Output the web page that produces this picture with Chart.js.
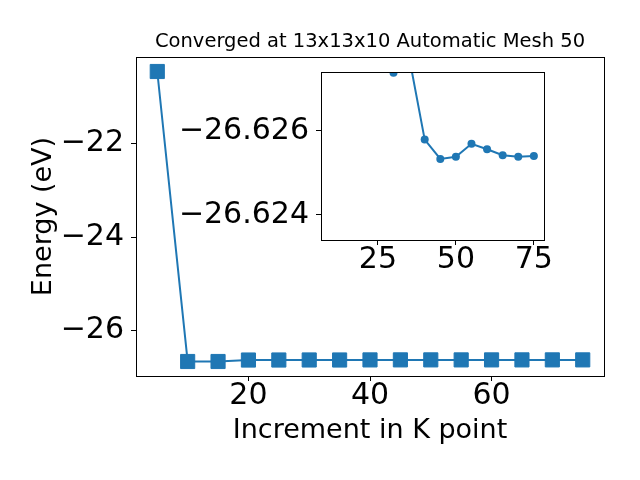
<!DOCTYPE html>
<html>
<head>
<meta charset="utf-8">
<script src="https://cdn.jsdelivr.net/npm/chart.js@4.4.0/dist/chart.umd.min.js"></script>
<style>
  html, body { margin: 0; padding: 0; background: #fff; }
  #wrap { position: relative; width: 640px; height: 480px; }
  #mainChart { position: absolute; left: 0; top: 0; }
  #insetChart { position: absolute; left: 160px; top: 60px; }
</style>
</head>
<body>
<div id="wrap">
  <canvas id="mainChart" width="640" height="480"></canvas>
  <canvas id="insetChart" width="420" height="240"></canvas>
</div>
<script>
// values
const kPoints = [5, 10, 15, 20, 25, 30, 35, 40, 45, 50, 55, 60, 65, 70, 75];
const energies = [-20.46, -26.66, -26.66, -26.6285, -26.6281, -26.62738, -26.62776, -26.62579,
  -26.62533, -26.62538, -26.62569, -26.62556, -26.62542, -26.62538, -26.6254];
const mainXTicks = [20, 40, 60];
const mainYTicks = [-26, -24, -22];
const insetXTicks = [25, 50, 75];
const insetYTicks = [-26.626, -26.624];
const titleText = "Converged at 13x13x10 Automatic Mesh 50";

const BLUE = "#1f77b4";
const FONT = "DejaVu Sans";
const minus = s => String(s).replace("-", "\u2212");

const frame = {
  id: "frame",
  beforeDraw(chart) {
    const a = chart.chartArea;
    const ctx = chart.ctx;
    ctx.save();
    ctx.fillStyle = "#fff";
    ctx.fillRect(a.left, a.top, a.right - a.left, a.bottom - a.top);
    ctx.restore();
  },
  afterDraw(chart) {
    const a = chart.chartArea;
    const ctx = chart.ctx;
    ctx.save();
    ctx.strokeStyle = "#000";
    ctx.lineWidth = 1;
    ctx.strokeRect(Math.round(a.left) + 0.5, Math.round(a.top) + 0.5,
      Math.round(a.right - a.left), Math.round(a.bottom - a.top));
    ctx.restore();
  }
};

function fixedTicks(values) {
  return scale => { scale.ticks = values.map(v => ({ value: v })); };
}

const tickFont = { family: FONT, size: 30, lineHeight: 1 };

function axis(opts) {
  return Object.assign({
    type: "linear",
    border: { display: false },
    grid: { drawOnChartArea: false, drawTicks: true, tickLength: 5, color: "#000", lineWidth: 1 },
    ticks: { color: "#000", font: tickFont, padding: 0 }
  }, opts);
}

function xFit(h) {
  return s => { s.height = h; s.paddingLeft = 0; s.paddingRight = 0; };
}
function yFit(w) {
  return s => { s.width = w; s.paddingTop = 0; s.paddingBottom = 0; };
}

new Chart(document.getElementById("mainChart"), {
  type: "line",
  data: {
    datasets: [{
      data: kPoints.map((k, i) => ({ x: k, y: energies[i] })),
      borderColor: BLUE,
      backgroundColor: BLUE,
      borderWidth: 2,
      pointStyle: "rect",
      pointRadius: 10,
      pointBorderWidth: 1,
      tension: 0
    }]
  },
  options: {
    responsive: false,
    animation: false,
    layout: { padding: { top: 0, right: 36, bottom: 0, left: 0 } },
    plugins: {
      legend: { display: false },
      tooltip: { enabled: false },
      title: {
        display: true,
        fullSize: false,
        text: titleText,
        color: "#000",
        font: { family: FONT, size: 19.5, weight: "normal", lineHeight: 1.2 },
        padding: { top: 30.3, bottom: 3.3 }
      }
    },
    scales: {
      x: axis({
        min: 1.5, max: 78.5,
        afterBuildTicks: fixedTicks(mainXTicks),
        afterFit: xFit(104),
        title: {
          display: true, text: "Increment in K point", color: "#000",
          font: { family: FONT, size: 27, lineHeight: 1.2 },
          padding: { top: 0, bottom: 32.8 }
        }
      }),
      y: axis({
        min: -26.97, max: -20.15,
        afterBuildTicks: fixedTicks(mainYTicks),
        afterFit: yFit(136),
        ticks: { color: "#000", font: tickFont, padding: 7, callback: v => minus(v) },
        title: {
          display: true, text: "Energy (eV)", color: "#000",
          font: { family: FONT, size: 27, lineHeight: 1.2 },
          padding: { top: 27.8, bottom: 0 }
        }
      })
    }
  },
  plugins: [frame]
});

new Chart(document.getElementById("insetChart"), {
  type: "line",
  data: {
    datasets: [{
      data: kPoints.slice(1).map((k, i) => ({ x: k, y: energies[i + 1] })),
      borderColor: BLUE,
      backgroundColor: BLUE,
      borderWidth: 2,
      pointStyle: "circle",
      pointRadius: 4,
      pointBorderWidth: 0,
      tension: 0,
      clip: 0
    }]
  },
  options: {
    responsive: false,
    animation: false,
    layout: { padding: { top: 12, right: 36, bottom: 0, left: 0 } },
    plugins: { legend: { display: false }, tooltip: { enabled: false } },
    scales: {
      x: axis({
        min: 6.75, max: 78.25,
        afterBuildTicks: fixedTicks(insetXTicks),
        afterFit: xFit(60)
      }),
      y: axis({
        min: -26.6274, max: -26.6234, reverse: true,
        afterBuildTicks: fixedTicks(insetYTicks),
        afterFit: yFit(161),
        ticks: { color: "#000", font: tickFont, padding: 7, callback: v => minus(v.toFixed(3)) }
      })
    }
  },
  plugins: [frame]
});
</script>
</body>
</html>
